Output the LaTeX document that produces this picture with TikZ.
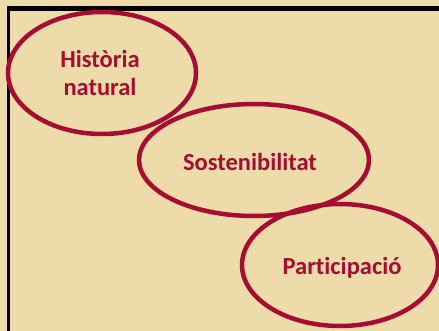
\documentclass[tikz,border=0pt]{standalone}
\usepackage{fontspec}
\setmainfont{Carlito}[Ligatures=NoCommon]
\definecolor{paper}{HTML}{EDDCA9}
\definecolor{wine}{HTML}{A50D32}
\begin{document}
\begin{tikzpicture}[x=1pt,y=-1pt,
  lbl/.style={text=wine,font=\bfseries\fontsize{24.5}{28}\selectfont,align=center,inner sep=0pt}]
\fill[paper] (0,0) rectangle (439,331);
\useasboundingbox (0,0) rectangle (439,331);
\fill[black] (7,6) rectangle (439,11);
\fill[black] (7,6) rectangle (9.5,331);
\draw[wine,line width=4.5pt] (102,73) ellipse [x radius=94,y radius=61];
\draw[wine,line width=4.5pt] (254,160) ellipse [x radius=115,y radius=56];
\draw[wine,line width=4.5pt] (340,265) ellipse [x radius=98,y radius=61];
\node[lbl] (h) at (100,73) {Història\\natural};
\node[lbl] (s) at (250,162) {Sostenibilitat};
\node[lbl] (p) at (342,268) {Participació};
\end{tikzpicture}
\end{document}
